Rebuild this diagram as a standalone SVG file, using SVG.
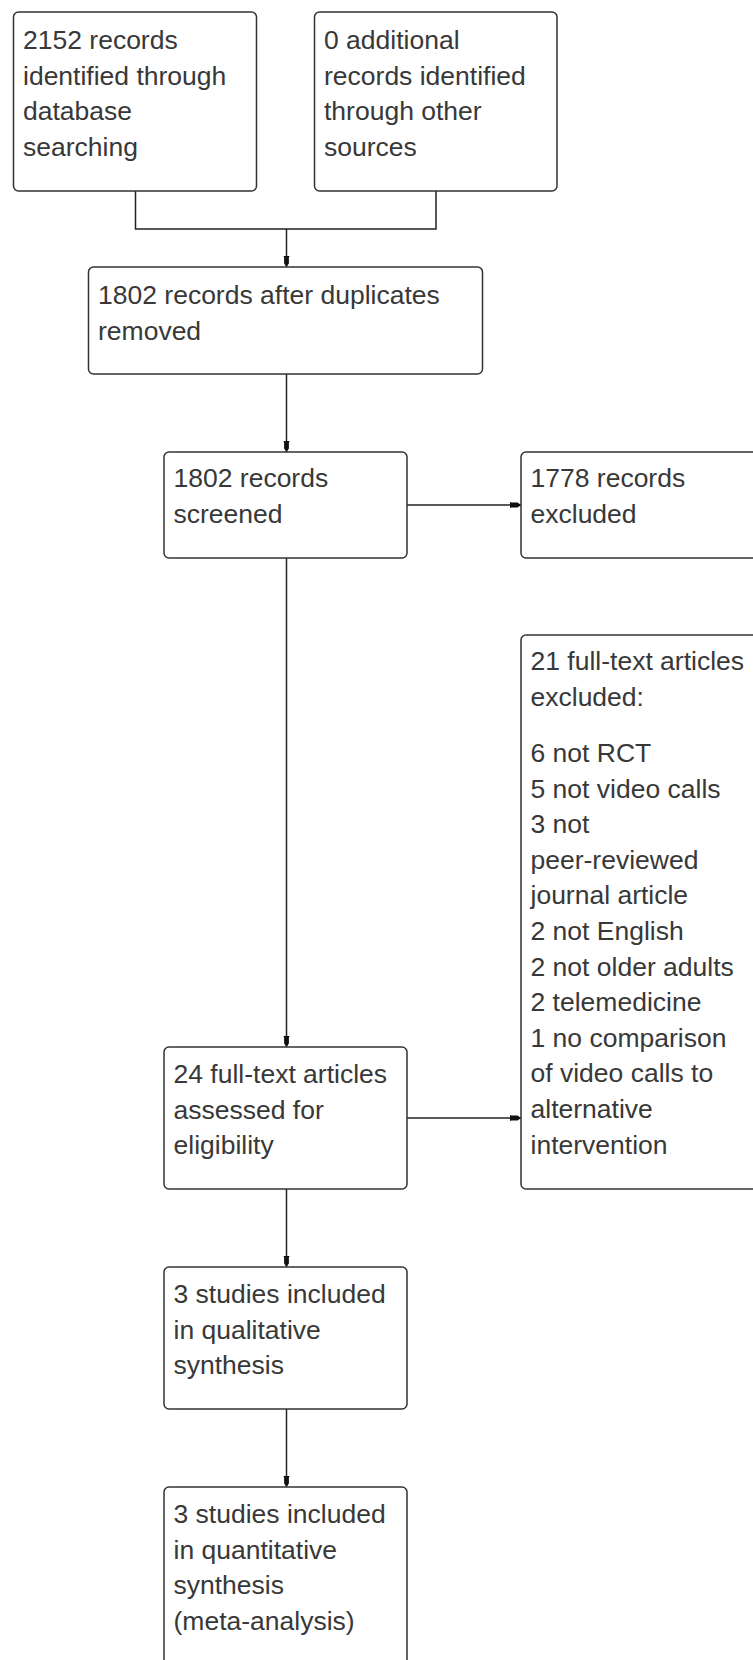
<svg xmlns="http://www.w3.org/2000/svg" width="753" height="1660" viewBox="0 0 753 1660">
<style>
.box{fill:#fff;stroke:#333;stroke-width:1.5}
.t{font-family:"Liberation Sans",Arial,sans-serif;font-size:26.5px;fill:#383838}
.c{fill:none;stroke:#222;stroke-width:1.5}
</style>
<defs>
<marker id="ah" markerUnits="userSpaceOnUse" markerWidth="14" markerHeight="10" refX="11.5" refY="0" viewBox="0 -5 14 10" orient="auto">
<path d="M0,-3.3 L2,-2.4 L8,-2.4 L11.5,0 L8,2.4 L2,2.4 L0,3.3 Z" fill="#111"/>
</marker>
</defs>
<rect width="753" height="1660" fill="#fff"/>
<g id="connectors">
<path class="c" d="M135.5,191 V229 H436 V191"/>
<path class="c" d="M286.5,229 V267" marker-end="url(#ah)"/>
<path class="c" d="M286.5,374 V452" marker-end="url(#ah)"/>
<path class="c" d="M407,505 H521" marker-end="url(#ah)"/>
<path class="c" d="M286.5,558 V1047" marker-end="url(#ah)"/>
<path class="c" d="M407,1118 H521" marker-end="url(#ah)"/>
<path class="c" d="M286.5,1189 V1267" marker-end="url(#ah)"/>
<path class="c" d="M286.5,1409 V1487" marker-end="url(#ah)"/>
</g>
<g id="n1">
<rect class="box" x="13.5" y="12" width="243" height="179" rx="5"/>
<text class="t" x="23" y="49">2152 records</text>
<text class="t" x="23" y="84.7">identified through</text>
<text class="t" x="23" y="120.4">database</text>
<text class="t" x="23" y="156.1">searching</text>
</g>
<g id="n2">
<rect class="box" x="314.5" y="12" width="242.5" height="179" rx="5"/>
<text class="t" x="324" y="49">0 additional</text>
<text class="t" x="324" y="84.7">records identified</text>
<text class="t" x="324" y="120.4">through other</text>
<text class="t" x="324" y="156.1">sources</text>
</g>
<g id="n3">
<rect class="box" x="88.5" y="267" width="394" height="107" rx="5"/>
<text class="t" x="98" y="304">1802 records after duplicates</text>
<text class="t" x="98" y="339.7">removed</text>
</g>
<g id="n4">
<rect class="box" x="164" y="452" width="243" height="106" rx="5"/>
<text class="t" x="173.5" y="487">1802 records</text>
<text class="t" x="173.5" y="522.7">screened</text>
</g>
<g id="n5">
<rect class="box" x="521" y="452" width="260" height="106" rx="5"/>
<text class="t" x="530.5" y="487">1778 records</text>
<text class="t" x="530.5" y="522.7">excluded</text>
</g>
<g id="n6">
<rect class="box" x="521" y="635" width="260" height="554" rx="5"/>
<text class="t" x="530.5" y="670">21 full-text articles</text>
<text class="t" x="530.5" y="705.7">excluded:</text>
<text class="t" x="530.5" y="762">6 not RCT</text>
<text class="t" x="530.5" y="797.6">5 not video calls</text>
<text class="t" x="530.5" y="833.2">3 not</text>
<text class="t" x="530.5" y="868.8">peer-reviewed</text>
<text class="t" x="530.5" y="904.4">journal article</text>
<text class="t" x="530.5" y="940">2 not English</text>
<text class="t" x="530.5" y="975.6">2 not older adults</text>
<text class="t" x="530.5" y="1011.2">2 telemedicine</text>
<text class="t" x="530.5" y="1046.8">1 no comparison</text>
<text class="t" x="530.5" y="1082.4">of video calls to</text>
<text class="t" x="530.5" y="1118">alternative</text>
<text class="t" x="530.5" y="1153.6">intervention</text>
</g>
<g id="n7">
<rect class="box" x="164" y="1047" width="243" height="142" rx="5"/>
<text class="t" x="173.5" y="1083">24 full-text articles</text>
<text class="t" x="173.5" y="1118.7">assessed for</text>
<text class="t" x="173.5" y="1154.4">eligibility</text>
</g>
<g id="n8">
<rect class="box" x="164" y="1267" width="243" height="142" rx="5"/>
<text class="t" x="173.5" y="1303">3 studies included</text>
<text class="t" x="173.5" y="1338.7">in qualitative</text>
<text class="t" x="173.5" y="1374.4">synthesis</text>
</g>
<g id="n9">
<rect class="box" x="164" y="1487" width="243" height="200" rx="5"/>
<text class="t" x="173.5" y="1523">3 studies included</text>
<text class="t" x="173.5" y="1558.7">in quantitative</text>
<text class="t" x="173.5" y="1594.4">synthesis</text>
<text class="t" x="173.5" y="1630.1">(meta-analysis)</text>
</g>
</svg>
